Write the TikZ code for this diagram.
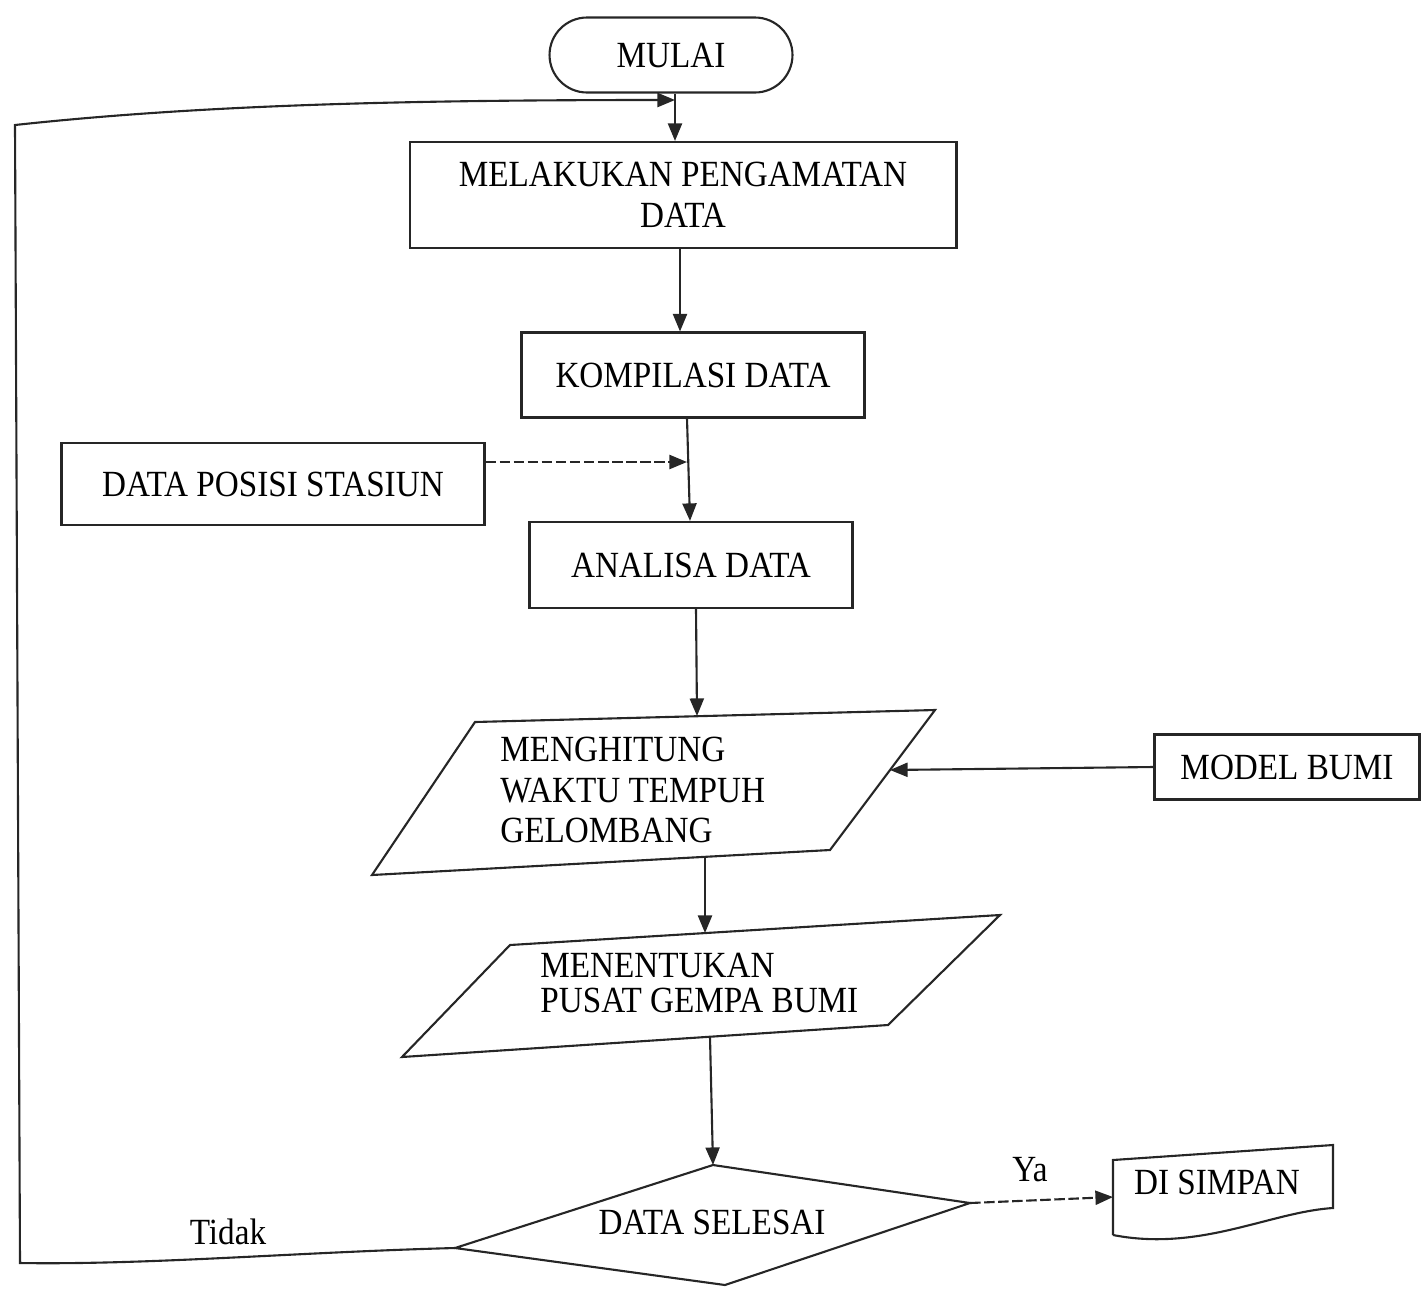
\documentclass[tikz,border=0pt]{standalone}
\usepackage{fontspec}
\setmainfont{Liberation Serif}[FakeStretch=0.9]
\usetikzlibrary{arrows.meta}
\tikzset{
  ln/.style={line width=1.2pt, black!85},
  boxnode/.style={ln, draw, text=black, inner sep=0pt, align=center, font=\fontsize{21}{23}\selectfont},
  txt/.style={inner sep=0pt, text=black, align=left, font=\fontsize{21}{23}\selectfont},
  arr/.style={ln, -{Triangle[length=10pt,width=8pt]}},
  darr/.style={arr, dash pattern=on 6pt off 2pt}
}
\begin{document}
\begin{tikzpicture}[x=0.02cm,y=-0.02cm]
\useasboundingbox (0,0) rectangle (1423,1289);
% process boxes
\node[boxnode, rounded corners=0.75cm, minimum width=4.86cm, minimum height=1.5cm] (mulai) at (671,55) {MULAI};
\node[boxnode, minimum width=10.94cm, minimum height=2.12cm] (amati) at (683,195) {MELAKUKAN PENGAMATAN\\DATA};
\node[boxnode, minimum width=6.86cm, minimum height=1.7cm] (kompil) at (693,375) {KOMPILASI DATA};
\node[boxnode, minimum width=8.46cm, minimum height=1.64cm] (posisi) at (273,484) {DATA POSISI STASIUN};
\node[boxnode, minimum width=6.46cm, minimum height=1.72cm] (analisa) at (691,565) {ANALISA DATA};
\node[boxnode, minimum width=5.3cm, minimum height=1.3cm] (model) at (1287,767) {MODEL BUMI};
% parallelogram 1
\coordinate (pa1) at (475,722); \coordinate (pa2) at (935,710);
\coordinate (pa3) at (830,850); \coordinate (pa4) at (372,875);
\draw[ln] (pa1) -- (pa2) -- (pa3) -- (pa4) -- cycle;
\node[txt, anchor=west] (hitung) at (500,790) {MENGHITUNG\\WAKTU TEMPUH\\GELOMBANG};
% parallelogram 2
\coordinate (pb1) at (510,945); \coordinate (pb2) at (1000,915);
\coordinate (pb3) at (888,1025); \coordinate (pb4) at (402,1057);
\draw[ln] (pb1) -- (pb2) -- (pb3) -- (pb4) -- cycle;
\node[txt, anchor=west, font=\fontsize{21}{20}\selectfont] (tentu) at (540,983) {MENENTUKAN\\PUSAT GEMPA BUMI};
% decision
\coordinate (dt) at (713,1165); \coordinate (dr) at (970,1203);
\coordinate (db) at (725,1285); \coordinate (dl) at (455,1248);
\draw[ln] (dt) -- (dr) -- (db) -- (dl) -- cycle;
\node[txt] (selesai) at (712,1222) {DATA SELESAI};
% document shape
\coordinate (s1) at (1113,1160); \coordinate (s2) at (1333,1145);
\coordinate (s3) at (1333,1208); \coordinate (s4) at (1113,1235);
\draw[ln] (s4) -- (s1) -- (s2) -- (s3) .. controls (1270,1212) and (1200,1252) .. (s4);
\node[txt] (simpan) at (1217,1182) {DI SIMPAN};
% labels
\node[txt] (ya) at (1030,1170) {Ya};
\node[txt] (tidak) at (228,1232) {Tidak};
% connector coordinates
\coordinate (j1) at (675,100);
\coordinate (top1) at (697,716);
\coordinate (right1) at (890,770);
\coordinate (bot1) at (705,857);
\coordinate (top2) at (705,933);
\coordinate (bot2) at (710,1037);
\coordinate (c1) at (20,1263);
\coordinate (c2) at (15,125);
\coordinate (in1) at (687,462);
% connectors
\draw[arr] (mulai.south -| j1) -- (amati.north -| j1);
\draw[arr] (amati.south -| 680,0) -- (kompil.north -| 680,0);
\draw[arr] (kompil.south -| 687,0) -- (analisa.north -| 690,0);
\draw[darr] (posisi.east |- in1) -- (in1);
\draw[arr] (analisa.south -| 696,0) -- (top1);
\draw[arr] (model.west) -- (right1);
\draw[arr] (bot1) -- (top2);
\draw[arr] (bot2) -- (dt);
\draw[darr] (dr) -- (s1 |- 0,1197);
\draw[arr] (dl) .. controls (300,1252) and (150,1265) .. (c1) -- (c2) .. controls (200,105) and (400,100) .. (j1);
\end{tikzpicture}
\end{document}
